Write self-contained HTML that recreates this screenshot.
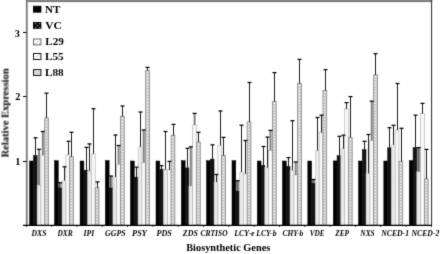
<!DOCTYPE html><html><head><meta charset="utf-8"><style>
html,body{margin:0;padding:0;background:#fff;width:440px;height:254px;overflow:hidden}
svg{display:block}#w{width:440px;height:254px;filter:grayscale(1)}
</style></head><body><div id="w">
<svg width="440" height="254" viewBox="0 0 440 254">
<defs><filter id="bl" x="0" y="0" width="440" height="254" filterUnits="userSpaceOnUse" color-interpolation-filters="sRGB"><feConvolveMatrix order="3" kernelMatrix="0.0144 0.0912 0.0144 0.0912 0.5776 0.0912 0.0144 0.0912 0.0144" edgeMode="duplicate"/></filter>
</defs>
<g filter="url(#bl)"><rect width="440" height="254" fill="#fff"/>
<rect x="29.60" y="161.00" width="3.78" height="64.00" fill="#000" stroke="#000" stroke-width="0.5"/>
<rect x="33.38" y="155.40" width="3.78" height="69.60" fill="#131313" stroke="#111" stroke-width="0.5"/>
<rect x="37.16" y="185.20" width="3.78" height="39.80" fill="#e4e4e4" stroke="#c8c8c8" stroke-width="0.6"/>
<line x1="39.35" y1="186.20" x2="39.35" y2="225.00" stroke="#f2f2f2" stroke-width="1"/>
<rect x="40.94" y="155.10" width="3.78" height="69.90" fill="#f8f8f8" stroke="#aaa" stroke-width="0.6"/>
<rect x="44.72" y="117.90" width="3.78" height="107.10" fill="#d2d2d2" stroke="#888" stroke-width="0.8"/>
<line x1="46.50" y1="119" x2="46.50" y2="225.00" stroke="#c4c4c4" stroke-width="1"/>
<line x1="46.50" y1="119" x2="46.50" y2="225.00" stroke="#fefefe" stroke-width="1" stroke-dasharray="1 2"/>
<line x1="48.00" y1="120.5" x2="48.00" y2="225.00" stroke="#b0b0b0" stroke-width="0.8" stroke-dasharray="1 2"/>
<rect x="54.50" y="160.70" width="3.78" height="64.30" fill="#000" stroke="#000" stroke-width="0.5"/>
<rect x="58.28" y="187.60" width="3.78" height="37.40" fill="#131313" stroke="#111" stroke-width="0.5"/>
<rect x="62.06" y="180.50" width="3.78" height="44.50" fill="#e4e4e4" stroke="#c8c8c8" stroke-width="0.6"/>
<line x1="64.25" y1="181.50" x2="64.25" y2="225.00" stroke="#f2f2f2" stroke-width="1"/>
<rect x="65.84" y="154.80" width="3.78" height="70.20" fill="#f8f8f8" stroke="#aaa" stroke-width="0.6"/>
<rect x="69.62" y="156.80" width="3.78" height="68.20" fill="#d2d2d2" stroke="#888" stroke-width="0.8"/>
<line x1="71.50" y1="158" x2="71.50" y2="225.00" stroke="#c4c4c4" stroke-width="1"/>
<line x1="71.50" y1="158" x2="71.50" y2="225.00" stroke="#fefefe" stroke-width="1" stroke-dasharray="1 2"/>
<line x1="73.00" y1="159.5" x2="73.00" y2="225.00" stroke="#b0b0b0" stroke-width="0.8" stroke-dasharray="1 2"/>
<rect x="80.09" y="161.00" width="3.78" height="64.00" fill="#000" stroke="#000" stroke-width="0.5"/>
<rect x="83.87" y="170.20" width="3.78" height="54.80" fill="#131313" stroke="#111" stroke-width="0.5"/>
<rect x="87.65" y="171.30" width="3.78" height="53.70" fill="#e4e4e4" stroke="#c8c8c8" stroke-width="0.6"/>
<line x1="89.84" y1="172.30" x2="89.84" y2="225.00" stroke="#f2f2f2" stroke-width="1"/>
<rect x="91.43" y="153.90" width="3.78" height="71.10" fill="#f8f8f8" stroke="#aaa" stroke-width="0.6"/>
<rect x="95.21" y="187.90" width="3.78" height="37.10" fill="#d2d2d2" stroke="#888" stroke-width="0.8"/>
<line x1="96.50" y1="189" x2="96.50" y2="225.00" stroke="#c4c4c4" stroke-width="1"/>
<line x1="96.50" y1="189" x2="96.50" y2="225.00" stroke="#fefefe" stroke-width="1" stroke-dasharray="1 2"/>
<line x1="98.00" y1="190.5" x2="98.00" y2="225.00" stroke="#b0b0b0" stroke-width="0.8" stroke-dasharray="1 2"/>
<rect x="105.36" y="160.50" width="3.78" height="64.50" fill="#000" stroke="#000" stroke-width="0.5"/>
<rect x="109.14" y="187.60" width="3.78" height="37.40" fill="#131313" stroke="#111" stroke-width="0.5"/>
<rect x="112.92" y="177.00" width="3.78" height="48.00" fill="#e4e4e4" stroke="#c8c8c8" stroke-width="0.6"/>
<line x1="115.11" y1="178.00" x2="115.11" y2="225.00" stroke="#f2f2f2" stroke-width="1"/>
<rect x="116.70" y="164.20" width="3.78" height="60.80" fill="#f8f8f8" stroke="#aaa" stroke-width="0.6"/>
<rect x="120.48" y="116.30" width="3.78" height="108.70" fill="#d2d2d2" stroke="#888" stroke-width="0.8"/>
<line x1="122.50" y1="118" x2="122.50" y2="225.00" stroke="#c4c4c4" stroke-width="1"/>
<line x1="122.50" y1="118" x2="122.50" y2="225.00" stroke="#fefefe" stroke-width="1" stroke-dasharray="1 2"/>
<line x1="124.00" y1="119.5" x2="124.00" y2="225.00" stroke="#b0b0b0" stroke-width="0.8" stroke-dasharray="1 2"/>
<rect x="130.50" y="161.00" width="3.78" height="64.00" fill="#000" stroke="#000" stroke-width="0.5"/>
<rect x="134.28" y="177.10" width="3.78" height="47.90" fill="#131313" stroke="#111" stroke-width="0.5"/>
<rect x="138.06" y="147.00" width="3.78" height="78.00" fill="#e4e4e4" stroke="#c8c8c8" stroke-width="0.6"/>
<line x1="140.25" y1="148.00" x2="140.25" y2="225.00" stroke="#f2f2f2" stroke-width="1"/>
<rect x="141.84" y="162.50" width="3.78" height="62.50" fill="#f8f8f8" stroke="#aaa" stroke-width="0.6"/>
<rect x="145.62" y="70.40" width="3.78" height="154.60" fill="#d2d2d2" stroke="#888" stroke-width="0.8"/>
<line x1="147.50" y1="72" x2="147.50" y2="225.00" stroke="#c4c4c4" stroke-width="1"/>
<line x1="147.50" y1="72" x2="147.50" y2="225.00" stroke="#fefefe" stroke-width="1" stroke-dasharray="1 2"/>
<line x1="149.00" y1="73.5" x2="149.00" y2="225.00" stroke="#b0b0b0" stroke-width="0.8" stroke-dasharray="1 2"/>
<rect x="156.00" y="161.00" width="3.78" height="64.00" fill="#000" stroke="#000" stroke-width="0.5"/>
<rect x="159.78" y="169.20" width="3.78" height="55.80" fill="#131313" stroke="#111" stroke-width="0.5"/>
<rect x="163.56" y="169.90" width="3.78" height="55.10" fill="#e4e4e4" stroke="#c8c8c8" stroke-width="0.6"/>
<line x1="165.75" y1="170.90" x2="165.75" y2="225.00" stroke="#f2f2f2" stroke-width="1"/>
<rect x="167.34" y="169.90" width="3.78" height="55.10" fill="#f8f8f8" stroke="#aaa" stroke-width="0.6"/>
<rect x="171.12" y="135.40" width="3.78" height="89.60" fill="#d2d2d2" stroke="#888" stroke-width="0.8"/>
<line x1="172.50" y1="137" x2="172.50" y2="225.00" stroke="#c4c4c4" stroke-width="1"/>
<line x1="172.50" y1="137" x2="172.50" y2="225.00" stroke="#fefefe" stroke-width="1" stroke-dasharray="1 2"/>
<line x1="174.00" y1="138.5" x2="174.00" y2="225.00" stroke="#b0b0b0" stroke-width="0.8" stroke-dasharray="1 2"/>
<rect x="181.36" y="160.70" width="3.78" height="64.30" fill="#000" stroke="#000" stroke-width="0.5"/>
<rect x="185.14" y="167.90" width="3.78" height="57.10" fill="#131313" stroke="#111" stroke-width="0.5"/>
<rect x="188.92" y="186.00" width="3.78" height="39.00" fill="#e4e4e4" stroke="#c8c8c8" stroke-width="0.6"/>
<line x1="191.11" y1="187.00" x2="191.11" y2="225.00" stroke="#f2f2f2" stroke-width="1"/>
<rect x="192.70" y="124.90" width="3.78" height="100.10" fill="#f8f8f8" stroke="#aaa" stroke-width="0.6"/>
<rect x="196.48" y="142.10" width="3.78" height="82.90" fill="#d2d2d2" stroke="#888" stroke-width="0.8"/>
<line x1="198.50" y1="144" x2="198.50" y2="225.00" stroke="#c4c4c4" stroke-width="1"/>
<line x1="198.50" y1="144" x2="198.50" y2="225.00" stroke="#fefefe" stroke-width="1" stroke-dasharray="1 2"/>
<line x1="200.00" y1="145.5" x2="200.00" y2="225.00" stroke="#b0b0b0" stroke-width="0.8" stroke-dasharray="1 2"/>
<rect x="206.49" y="160.70" width="3.78" height="64.30" fill="#000" stroke="#000" stroke-width="0.5"/>
<rect x="210.27" y="159.10" width="3.78" height="65.90" fill="#131313" stroke="#111" stroke-width="0.5"/>
<rect x="214.05" y="182.00" width="3.78" height="43.00" fill="#e4e4e4" stroke="#c8c8c8" stroke-width="0.6"/>
<line x1="216.24" y1="183.00" x2="216.24" y2="225.00" stroke="#f2f2f2" stroke-width="1"/>
<rect x="217.83" y="145.20" width="3.78" height="79.80" fill="#f8f8f8" stroke="#aaa" stroke-width="0.6"/>
<rect x="221.61" y="155.50" width="3.78" height="69.50" fill="#d2d2d2" stroke="#888" stroke-width="0.8"/>
<line x1="223.50" y1="157" x2="223.50" y2="225.00" stroke="#c4c4c4" stroke-width="1"/>
<line x1="223.50" y1="157" x2="223.50" y2="225.00" stroke="#fefefe" stroke-width="1" stroke-dasharray="1 2"/>
<line x1="225.00" y1="158.5" x2="225.00" y2="225.00" stroke="#b0b0b0" stroke-width="0.8" stroke-dasharray="1 2"/>
<rect x="232.00" y="160.70" width="3.78" height="64.30" fill="#000" stroke="#000" stroke-width="0.5"/>
<rect x="235.78" y="191.00" width="3.78" height="34.00" fill="#131313" stroke="#111" stroke-width="0.5"/>
<rect x="239.56" y="172.10" width="3.78" height="52.90" fill="#e4e4e4" stroke="#c8c8c8" stroke-width="0.6"/>
<line x1="241.75" y1="173.10" x2="241.75" y2="225.00" stroke="#f2f2f2" stroke-width="1"/>
<rect x="243.34" y="173.70" width="3.78" height="51.30" fill="#f8f8f8" stroke="#aaa" stroke-width="0.6"/>
<rect x="247.12" y="122.00" width="3.78" height="103.00" fill="#d2d2d2" stroke="#888" stroke-width="0.8"/>
<line x1="248.50" y1="123" x2="248.50" y2="225.00" stroke="#c4c4c4" stroke-width="1"/>
<line x1="248.50" y1="123" x2="248.50" y2="225.00" stroke="#fefefe" stroke-width="1" stroke-dasharray="1 2"/>
<line x1="250.00" y1="124.5" x2="250.00" y2="225.00" stroke="#b0b0b0" stroke-width="0.8" stroke-dasharray="1 2"/>
<rect x="257.27" y="161.00" width="3.78" height="64.00" fill="#000" stroke="#000" stroke-width="0.5"/>
<rect x="261.05" y="165.20" width="3.78" height="59.80" fill="#131313" stroke="#111" stroke-width="0.5"/>
<rect x="264.83" y="167.60" width="3.78" height="57.40" fill="#e4e4e4" stroke="#c8c8c8" stroke-width="0.6"/>
<line x1="267.02" y1="168.60" x2="267.02" y2="225.00" stroke="#f2f2f2" stroke-width="1"/>
<rect x="268.61" y="150.50" width="3.78" height="74.50" fill="#f8f8f8" stroke="#aaa" stroke-width="0.6"/>
<rect x="272.39" y="101.60" width="3.78" height="123.40" fill="#d2d2d2" stroke="#888" stroke-width="0.8"/>
<line x1="274.50" y1="103" x2="274.50" y2="225.00" stroke="#c4c4c4" stroke-width="1"/>
<line x1="274.50" y1="103" x2="274.50" y2="225.00" stroke="#fefefe" stroke-width="1" stroke-dasharray="1 2"/>
<line x1="276.00" y1="104.5" x2="276.00" y2="225.00" stroke="#b0b0b0" stroke-width="0.8" stroke-dasharray="1 2"/>
<rect x="282.49" y="161.00" width="3.78" height="64.00" fill="#000" stroke="#000" stroke-width="0.5"/>
<rect x="286.27" y="166.30" width="3.78" height="58.70" fill="#131313" stroke="#111" stroke-width="0.5"/>
<rect x="290.05" y="170.20" width="3.78" height="54.80" fill="#e4e4e4" stroke="#c8c8c8" stroke-width="0.6"/>
<line x1="292.24" y1="171.20" x2="292.24" y2="225.00" stroke="#f2f2f2" stroke-width="1"/>
<rect x="293.83" y="175.00" width="3.78" height="50.00" fill="#f8f8f8" stroke="#aaa" stroke-width="0.6"/>
<rect x="297.61" y="83.50" width="3.78" height="141.50" fill="#d2d2d2" stroke="#888" stroke-width="0.8"/>
<line x1="299.50" y1="85" x2="299.50" y2="225.00" stroke="#c4c4c4" stroke-width="1"/>
<line x1="299.50" y1="85" x2="299.50" y2="225.00" stroke="#fefefe" stroke-width="1" stroke-dasharray="1 2"/>
<line x1="301.00" y1="86.5" x2="301.00" y2="225.00" stroke="#b0b0b0" stroke-width="0.8" stroke-dasharray="1 2"/>
<rect x="307.82" y="161.00" width="3.78" height="64.00" fill="#000" stroke="#000" stroke-width="0.5"/>
<rect x="311.60" y="183.10" width="3.78" height="41.90" fill="#131313" stroke="#111" stroke-width="0.5"/>
<rect x="315.38" y="150.50" width="3.78" height="74.50" fill="#e4e4e4" stroke="#c8c8c8" stroke-width="0.6"/>
<line x1="317.57" y1="151.50" x2="317.57" y2="225.00" stroke="#f2f2f2" stroke-width="1"/>
<rect x="319.16" y="132.40" width="3.78" height="92.60" fill="#f8f8f8" stroke="#aaa" stroke-width="0.6"/>
<rect x="322.94" y="90.40" width="3.78" height="134.60" fill="#d2d2d2" stroke="#888" stroke-width="0.8"/>
<line x1="324.50" y1="92" x2="324.50" y2="225.00" stroke="#c4c4c4" stroke-width="1"/>
<line x1="324.50" y1="92" x2="324.50" y2="225.00" stroke="#fefefe" stroke-width="1" stroke-dasharray="1 2"/>
<line x1="326.00" y1="93.5" x2="326.00" y2="225.00" stroke="#b0b0b0" stroke-width="0.8" stroke-dasharray="1 2"/>
<rect x="333.27" y="160.90" width="3.78" height="64.10" fill="#000" stroke="#000" stroke-width="0.5"/>
<rect x="337.05" y="155.70" width="3.78" height="69.30" fill="#131313" stroke="#111" stroke-width="0.5"/>
<rect x="340.83" y="148.60" width="3.78" height="76.40" fill="#e4e4e4" stroke="#c8c8c8" stroke-width="0.6"/>
<line x1="343.02" y1="149.60" x2="343.02" y2="225.00" stroke="#f2f2f2" stroke-width="1"/>
<rect x="344.61" y="108.90" width="3.78" height="116.10" fill="#f8f8f8" stroke="#aaa" stroke-width="0.6"/>
<rect x="348.39" y="137.60" width="3.78" height="87.40" fill="#d2d2d2" stroke="#888" stroke-width="0.8"/>
<line x1="350.50" y1="139" x2="350.50" y2="225.00" stroke="#c4c4c4" stroke-width="1"/>
<line x1="350.50" y1="139" x2="350.50" y2="225.00" stroke="#fefefe" stroke-width="1" stroke-dasharray="1 2"/>
<line x1="352.00" y1="140.5" x2="352.00" y2="225.00" stroke="#b0b0b0" stroke-width="0.8" stroke-dasharray="1 2"/>
<rect x="358.49" y="161.00" width="3.78" height="64.00" fill="#000" stroke="#000" stroke-width="0.5"/>
<rect x="362.27" y="149.60" width="3.78" height="75.40" fill="#131313" stroke="#111" stroke-width="0.5"/>
<rect x="366.05" y="173.30" width="3.78" height="51.70" fill="#e4e4e4" stroke="#c8c8c8" stroke-width="0.6"/>
<line x1="368.24" y1="174.30" x2="368.24" y2="225.00" stroke="#f2f2f2" stroke-width="1"/>
<rect x="369.83" y="140.50" width="3.78" height="84.50" fill="#f8f8f8" stroke="#aaa" stroke-width="0.6"/>
<rect x="373.61" y="74.90" width="3.78" height="150.10" fill="#d2d2d2" stroke="#888" stroke-width="0.8"/>
<line x1="375.50" y1="76" x2="375.50" y2="225.00" stroke="#c4c4c4" stroke-width="1"/>
<line x1="375.50" y1="76" x2="375.50" y2="225.00" stroke="#fefefe" stroke-width="1" stroke-dasharray="1 2"/>
<line x1="377.00" y1="77.5" x2="377.00" y2="225.00" stroke="#b0b0b0" stroke-width="0.8" stroke-dasharray="1 2"/>
<rect x="383.82" y="161.00" width="3.78" height="64.00" fill="#000" stroke="#000" stroke-width="0.5"/>
<rect x="387.60" y="147.80" width="3.78" height="77.20" fill="#131313" stroke="#111" stroke-width="0.5"/>
<rect x="391.38" y="144.70" width="3.78" height="80.30" fill="#e4e4e4" stroke="#c8c8c8" stroke-width="0.6"/>
<line x1="393.57" y1="145.70" x2="393.57" y2="225.00" stroke="#f2f2f2" stroke-width="1"/>
<rect x="395.16" y="130.00" width="3.78" height="95.00" fill="#f8f8f8" stroke="#aaa" stroke-width="0.6"/>
<rect x="398.94" y="161.30" width="3.78" height="63.70" fill="#d2d2d2" stroke="#888" stroke-width="0.8"/>
<line x1="400.50" y1="163" x2="400.50" y2="225.00" stroke="#c4c4c4" stroke-width="1"/>
<line x1="400.50" y1="163" x2="400.50" y2="225.00" stroke="#fefefe" stroke-width="1" stroke-dasharray="1 2"/>
<line x1="402.00" y1="164.5" x2="402.00" y2="225.00" stroke="#b0b0b0" stroke-width="0.8" stroke-dasharray="1 2"/>
<rect x="409.27" y="160.70" width="3.78" height="64.30" fill="#000" stroke="#000" stroke-width="0.5"/>
<rect x="413.05" y="147.60" width="3.78" height="77.40" fill="#131313" stroke="#111" stroke-width="0.5"/>
<rect x="416.83" y="171.60" width="3.78" height="53.40" fill="#e4e4e4" stroke="#c8c8c8" stroke-width="0.6"/>
<line x1="419.02" y1="172.60" x2="419.02" y2="225.00" stroke="#f2f2f2" stroke-width="1"/>
<rect x="420.61" y="113.60" width="3.78" height="111.40" fill="#f8f8f8" stroke="#aaa" stroke-width="0.6"/>
<rect x="424.39" y="178.90" width="3.78" height="46.10" fill="#d2d2d2" stroke="#888" stroke-width="0.8"/>
<line x1="426.50" y1="180" x2="426.50" y2="225.00" stroke="#c4c4c4" stroke-width="1"/>
<line x1="426.50" y1="180" x2="426.50" y2="225.00" stroke="#fefefe" stroke-width="1" stroke-dasharray="1 2"/>
<line x1="428.00" y1="181.5" x2="428.00" y2="225.00" stroke="#b0b0b0" stroke-width="0.8" stroke-dasharray="1 2"/>
<line x1="35.50" y1="155.40" x2="35.50" y2="137.80" stroke="#1a1a1a" stroke-width="1"/>
<line x1="33.50" y1="137.80" x2="37.50" y2="137.80" stroke="#000" stroke-width="1.25"/>
<line x1="39.05" y1="185.20" x2="39.05" y2="149.30" stroke="#808080" stroke-width="2"/>
<line x1="37.05" y1="149.30" x2="41.05" y2="149.30" stroke="#000" stroke-width="1.25"/>
<line x1="42.83" y1="155.10" x2="42.83" y2="131.50" stroke="#808080" stroke-width="2"/>
<line x1="40.83" y1="131.50" x2="44.83" y2="131.50" stroke="#000" stroke-width="1.25"/>
<line x1="46.50" y1="117.90" x2="46.50" y2="93.20" stroke="#1a1a1a" stroke-width="1"/>
<line x1="44.50" y1="93.20" x2="48.50" y2="93.20" stroke="#000" stroke-width="1.25"/>
<rect x="58.68" y="182.70" width="2.98" height="4.90" fill="#8a8a8a"/>
<line x1="59.57" y1="187.60" x2="59.57" y2="182.70" stroke="#444" stroke-width="0.8"/>
<line x1="58.17" y1="182.70" x2="62.17" y2="182.70" stroke="#000" stroke-width="1.25"/>
<line x1="64.50" y1="180.50" x2="64.50" y2="166.80" stroke="#1a1a1a" stroke-width="1"/>
<line x1="62.50" y1="166.80" x2="66.50" y2="166.80" stroke="#000" stroke-width="1.25"/>
<line x1="68.50" y1="154.80" x2="68.50" y2="141.30" stroke="#1a1a1a" stroke-width="1"/>
<line x1="66.50" y1="141.30" x2="70.50" y2="141.30" stroke="#000" stroke-width="1.25"/>
<line x1="71.50" y1="156.80" x2="71.50" y2="132.30" stroke="#1a1a1a" stroke-width="1"/>
<line x1="69.50" y1="132.30" x2="73.50" y2="132.30" stroke="#000" stroke-width="1.25"/>
<line x1="86.50" y1="170.20" x2="86.50" y2="147.40" stroke="#1a1a1a" stroke-width="1"/>
<line x1="84.50" y1="147.40" x2="88.50" y2="147.40" stroke="#000" stroke-width="1.25"/>
<line x1="89.50" y1="171.30" x2="89.50" y2="143.90" stroke="#1a1a1a" stroke-width="1"/>
<line x1="87.50" y1="143.90" x2="91.50" y2="143.90" stroke="#000" stroke-width="1.25"/>
<line x1="93.50" y1="153.90" x2="93.50" y2="108.70" stroke="#1a1a1a" stroke-width="1"/>
<line x1="91.50" y1="108.70" x2="95.50" y2="108.70" stroke="#000" stroke-width="1.25"/>
<line x1="97.50" y1="187.90" x2="97.50" y2="181.90" stroke="#1a1a1a" stroke-width="1"/>
<line x1="95.50" y1="181.90" x2="99.50" y2="181.90" stroke="#000" stroke-width="1.25"/>
<rect x="109.54" y="176.00" width="2.98" height="11.60" fill="#8a8a8a"/>
<line x1="110.43" y1="187.60" x2="110.43" y2="176.00" stroke="#444" stroke-width="0.8"/>
<line x1="109.03" y1="176.00" x2="113.03" y2="176.00" stroke="#000" stroke-width="1.25"/>
<line x1="115.50" y1="177.00" x2="115.50" y2="135.00" stroke="#1a1a1a" stroke-width="1"/>
<line x1="113.50" y1="135.00" x2="117.50" y2="135.00" stroke="#000" stroke-width="1.25"/>
<line x1="118.59" y1="164.20" x2="118.59" y2="145.50" stroke="#808080" stroke-width="2"/>
<line x1="116.59" y1="145.50" x2="120.59" y2="145.50" stroke="#000" stroke-width="1.25"/>
<line x1="122.50" y1="116.30" x2="122.50" y2="106.00" stroke="#1a1a1a" stroke-width="1"/>
<line x1="120.50" y1="106.00" x2="124.50" y2="106.00" stroke="#000" stroke-width="1.25"/>
<line x1="136.50" y1="177.10" x2="136.50" y2="167.20" stroke="#1a1a1a" stroke-width="1"/>
<line x1="134.50" y1="167.20" x2="138.50" y2="167.20" stroke="#000" stroke-width="1.25"/>
<line x1="140.50" y1="147.00" x2="140.50" y2="112.00" stroke="#1a1a1a" stroke-width="1"/>
<line x1="138.50" y1="112.00" x2="142.50" y2="112.00" stroke="#000" stroke-width="1.25"/>
<line x1="143.73" y1="162.50" x2="143.73" y2="130.00" stroke="#808080" stroke-width="2"/>
<line x1="141.73" y1="130.00" x2="145.73" y2="130.00" stroke="#000" stroke-width="1.25"/>
<line x1="147.50" y1="70.40" x2="147.50" y2="67.40" stroke="#1a1a1a" stroke-width="1"/>
<line x1="145.50" y1="67.40" x2="149.50" y2="67.40" stroke="#000" stroke-width="1.25"/>
<line x1="161.50" y1="169.20" x2="161.50" y2="165.60" stroke="#1a1a1a" stroke-width="1"/>
<line x1="159.50" y1="165.60" x2="163.50" y2="165.60" stroke="#000" stroke-width="1.25"/>
<line x1="165.50" y1="169.90" x2="165.50" y2="131.50" stroke="#1a1a1a" stroke-width="1"/>
<line x1="163.50" y1="131.50" x2="167.50" y2="131.50" stroke="#000" stroke-width="1.25"/>
<line x1="169.50" y1="169.90" x2="169.50" y2="161.40" stroke="#1a1a1a" stroke-width="1"/>
<line x1="167.50" y1="161.40" x2="171.50" y2="161.40" stroke="#000" stroke-width="1.25"/>
<line x1="173.50" y1="135.40" x2="173.50" y2="124.40" stroke="#1a1a1a" stroke-width="1"/>
<line x1="171.50" y1="124.40" x2="175.50" y2="124.40" stroke="#000" stroke-width="1.25"/>
<line x1="187.50" y1="167.90" x2="187.50" y2="148.40" stroke="#1a1a1a" stroke-width="1"/>
<line x1="185.50" y1="148.40" x2="189.50" y2="148.40" stroke="#000" stroke-width="1.25"/>
<line x1="190.81" y1="186.00" x2="190.81" y2="146.80" stroke="#808080" stroke-width="2"/>
<line x1="188.81" y1="146.80" x2="192.81" y2="146.80" stroke="#000" stroke-width="1.25"/>
<line x1="194.59" y1="124.90" x2="194.59" y2="113.40" stroke="#808080" stroke-width="2"/>
<line x1="192.59" y1="113.40" x2="196.59" y2="113.40" stroke="#000" stroke-width="1.25"/>
<line x1="198.50" y1="142.10" x2="198.50" y2="132.30" stroke="#1a1a1a" stroke-width="1"/>
<line x1="196.50" y1="132.30" x2="200.50" y2="132.30" stroke="#000" stroke-width="1.25"/>
<line x1="212.50" y1="159.10" x2="212.50" y2="144.80" stroke="#1a1a1a" stroke-width="1"/>
<line x1="210.50" y1="144.80" x2="214.50" y2="144.80" stroke="#000" stroke-width="1.25"/>
<line x1="216.50" y1="182.00" x2="216.50" y2="174.50" stroke="#1a1a1a" stroke-width="1"/>
<line x1="214.50" y1="174.50" x2="218.50" y2="174.50" stroke="#000" stroke-width="1.25"/>
<line x1="220.50" y1="145.20" x2="220.50" y2="111.00" stroke="#1a1a1a" stroke-width="1"/>
<line x1="218.50" y1="111.00" x2="222.50" y2="111.00" stroke="#000" stroke-width="1.25"/>
<line x1="223.50" y1="155.50" x2="223.50" y2="137.40" stroke="#1a1a1a" stroke-width="1"/>
<line x1="221.50" y1="137.40" x2="225.50" y2="137.40" stroke="#000" stroke-width="1.25"/>
<rect x="236.18" y="180.70" width="2.98" height="10.30" fill="#8a8a8a"/>
<line x1="237.07" y1="191.00" x2="237.07" y2="180.70" stroke="#444" stroke-width="0.8"/>
<line x1="235.67" y1="180.70" x2="239.67" y2="180.70" stroke="#000" stroke-width="1.25"/>
<line x1="241.50" y1="172.10" x2="241.50" y2="125.20" stroke="#1a1a1a" stroke-width="1"/>
<line x1="239.50" y1="125.20" x2="243.50" y2="125.20" stroke="#000" stroke-width="1.25"/>
<line x1="245.50" y1="173.70" x2="245.50" y2="140.50" stroke="#1a1a1a" stroke-width="1"/>
<line x1="243.50" y1="140.50" x2="247.50" y2="140.50" stroke="#000" stroke-width="1.25"/>
<line x1="249.50" y1="122.00" x2="249.50" y2="82.50" stroke="#1a1a1a" stroke-width="1"/>
<line x1="247.50" y1="82.50" x2="251.50" y2="82.50" stroke="#000" stroke-width="1.25"/>
<line x1="263.50" y1="165.20" x2="263.50" y2="146.50" stroke="#1a1a1a" stroke-width="1"/>
<line x1="261.50" y1="146.50" x2="265.50" y2="146.50" stroke="#000" stroke-width="1.25"/>
<line x1="267.50" y1="167.60" x2="267.50" y2="137.10" stroke="#1a1a1a" stroke-width="1"/>
<line x1="265.50" y1="137.10" x2="269.50" y2="137.10" stroke="#000" stroke-width="1.25"/>
<line x1="270.50" y1="150.50" x2="270.50" y2="130.40" stroke="#808080" stroke-width="2"/>
<line x1="268.50" y1="130.40" x2="272.50" y2="130.40" stroke="#000" stroke-width="1.25"/>
<line x1="274.50" y1="101.60" x2="274.50" y2="72.60" stroke="#1a1a1a" stroke-width="1"/>
<line x1="272.50" y1="72.60" x2="276.50" y2="72.60" stroke="#000" stroke-width="1.25"/>
<line x1="288.50" y1="166.30" x2="288.50" y2="157.60" stroke="#1a1a1a" stroke-width="1"/>
<line x1="286.50" y1="157.60" x2="290.50" y2="157.60" stroke="#000" stroke-width="1.25"/>
<line x1="292.50" y1="170.20" x2="292.50" y2="120.70" stroke="#1a1a1a" stroke-width="1"/>
<line x1="290.50" y1="120.70" x2="294.50" y2="120.70" stroke="#000" stroke-width="1.25"/>
<line x1="295.72" y1="175.00" x2="295.72" y2="162.00" stroke="#808080" stroke-width="2"/>
<line x1="293.72" y1="162.00" x2="297.72" y2="162.00" stroke="#000" stroke-width="1.25"/>
<line x1="299.50" y1="83.50" x2="299.50" y2="59.40" stroke="#1a1a1a" stroke-width="1"/>
<line x1="297.50" y1="59.40" x2="301.50" y2="59.40" stroke="#000" stroke-width="1.25"/>
<rect x="312.00" y="179.50" width="2.98" height="3.60" fill="#8a8a8a"/>
<line x1="312.89" y1="183.10" x2="312.89" y2="179.50" stroke="#444" stroke-width="0.8"/>
<line x1="311.49" y1="179.50" x2="315.49" y2="179.50" stroke="#000" stroke-width="1.25"/>
<line x1="317.50" y1="150.50" x2="317.50" y2="117.50" stroke="#1a1a1a" stroke-width="1"/>
<line x1="315.50" y1="117.50" x2="319.50" y2="117.50" stroke="#000" stroke-width="1.25"/>
<line x1="321.50" y1="132.40" x2="321.50" y2="115.20" stroke="#1a1a1a" stroke-width="1"/>
<line x1="319.50" y1="115.20" x2="323.50" y2="115.20" stroke="#000" stroke-width="1.25"/>
<line x1="325.50" y1="90.40" x2="325.50" y2="69.60" stroke="#1a1a1a" stroke-width="1"/>
<line x1="323.50" y1="69.60" x2="327.50" y2="69.60" stroke="#000" stroke-width="1.25"/>
<line x1="339.50" y1="155.70" x2="339.50" y2="136.30" stroke="#1a1a1a" stroke-width="1"/>
<line x1="337.50" y1="136.30" x2="341.50" y2="136.30" stroke="#000" stroke-width="1.25"/>
<line x1="343.50" y1="148.60" x2="343.50" y2="135.20" stroke="#1a1a1a" stroke-width="1"/>
<line x1="341.50" y1="135.20" x2="345.50" y2="135.20" stroke="#000" stroke-width="1.25"/>
<line x1="346.50" y1="108.90" x2="346.50" y2="102.60" stroke="#1a1a1a" stroke-width="1"/>
<line x1="344.50" y1="102.60" x2="348.50" y2="102.60" stroke="#000" stroke-width="1.25"/>
<line x1="350.50" y1="137.60" x2="350.50" y2="96.60" stroke="#1a1a1a" stroke-width="1"/>
<line x1="348.50" y1="96.60" x2="352.50" y2="96.60" stroke="#000" stroke-width="1.25"/>
<line x1="364.50" y1="149.60" x2="364.50" y2="141.30" stroke="#1a1a1a" stroke-width="1"/>
<line x1="362.50" y1="141.30" x2="366.50" y2="141.30" stroke="#000" stroke-width="1.25"/>
<line x1="368.50" y1="173.30" x2="368.50" y2="134.50" stroke="#1a1a1a" stroke-width="1"/>
<line x1="366.50" y1="134.50" x2="370.50" y2="134.50" stroke="#000" stroke-width="1.25"/>
<line x1="371.72" y1="140.50" x2="371.72" y2="101.20" stroke="#808080" stroke-width="2"/>
<line x1="369.72" y1="101.20" x2="373.72" y2="101.20" stroke="#000" stroke-width="1.25"/>
<line x1="375.50" y1="74.90" x2="375.50" y2="53.70" stroke="#1a1a1a" stroke-width="1"/>
<line x1="373.50" y1="53.70" x2="377.50" y2="53.70" stroke="#000" stroke-width="1.25"/>
<line x1="389.50" y1="147.80" x2="389.50" y2="127.70" stroke="#1a1a1a" stroke-width="1"/>
<line x1="387.50" y1="127.70" x2="391.50" y2="127.70" stroke="#000" stroke-width="1.25"/>
<line x1="393.50" y1="144.70" x2="393.50" y2="125.30" stroke="#1a1a1a" stroke-width="1"/>
<line x1="391.50" y1="125.30" x2="395.50" y2="125.30" stroke="#000" stroke-width="1.25"/>
<line x1="397.50" y1="130.00" x2="397.50" y2="83.50" stroke="#1a1a1a" stroke-width="1"/>
<line x1="395.50" y1="83.50" x2="399.50" y2="83.50" stroke="#000" stroke-width="1.25"/>
<line x1="401.50" y1="161.30" x2="401.50" y2="128.30" stroke="#1a1a1a" stroke-width="1"/>
<line x1="399.50" y1="128.30" x2="403.50" y2="128.30" stroke="#000" stroke-width="1.25"/>
<line x1="415.50" y1="147.60" x2="415.50" y2="115.20" stroke="#1a1a1a" stroke-width="1"/>
<line x1="413.50" y1="115.20" x2="417.50" y2="115.20" stroke="#000" stroke-width="1.25"/>
<rect x="417.23" y="147.60" width="2.98" height="24.00" fill="#8a8a8a"/>
<line x1="418.12" y1="171.60" x2="418.12" y2="147.60" stroke="#444" stroke-width="0.8"/>
<line x1="416.72" y1="147.60" x2="420.72" y2="147.60" stroke="#000" stroke-width="1.25"/>
<line x1="422.50" y1="113.60" x2="422.50" y2="103.40" stroke="#1a1a1a" stroke-width="1"/>
<line x1="420.50" y1="103.40" x2="424.50" y2="103.40" stroke="#000" stroke-width="1.25"/>
<line x1="426.50" y1="178.90" x2="426.50" y2="149.40" stroke="#1a1a1a" stroke-width="1"/>
<line x1="424.50" y1="149.40" x2="428.50" y2="149.40" stroke="#000" stroke-width="1.25"/>
<rect x="26" y="0" width="406.2" height="1" fill="#8a8a8a"/>
<rect x="26" y="1" width="406.2" height="1.1" fill="#747474"/>
<line x1="431.55" y1="0" x2="431.55" y2="226" stroke="#3a3a3a" stroke-width="1.1"/>
<rect x="25.9" y="0" width="1.0" height="225.4" fill="#6a6a6a"/>
<rect x="26.9" y="0" width="0.9" height="225.4" fill="#8e8e8e"/>
<line x1="23" y1="225.4" x2="432" y2="225.4" stroke="#000" stroke-width="1.2"/>
<line x1="23" y1="32.5" x2="26.5" y2="32.5" stroke="#000" stroke-width="1"/>
<line x1="23" y1="96.5" x2="26.5" y2="96.5" stroke="#000" stroke-width="1"/>
<line x1="23" y1="161.5" x2="26.5" y2="161.5" stroke="#000" stroke-width="1"/>
<line x1="26.30" y1="225.4" x2="26.30" y2="227" stroke="#000" stroke-width="0.8"/>
<line x1="51.62" y1="225.4" x2="51.62" y2="227" stroke="#000" stroke-width="0.8"/>
<line x1="76.94" y1="225.4" x2="76.94" y2="227" stroke="#000" stroke-width="0.8"/>
<line x1="102.26" y1="225.4" x2="102.26" y2="227" stroke="#000" stroke-width="0.8"/>
<line x1="127.58" y1="225.4" x2="127.58" y2="227" stroke="#000" stroke-width="0.8"/>
<line x1="152.90" y1="225.4" x2="152.90" y2="227" stroke="#000" stroke-width="0.8"/>
<line x1="178.22" y1="225.4" x2="178.22" y2="227" stroke="#000" stroke-width="0.8"/>
<line x1="203.54" y1="225.4" x2="203.54" y2="227" stroke="#000" stroke-width="0.8"/>
<line x1="228.86" y1="225.4" x2="228.86" y2="227" stroke="#000" stroke-width="0.8"/>
<line x1="254.18" y1="225.4" x2="254.18" y2="227" stroke="#000" stroke-width="0.8"/>
<line x1="279.50" y1="225.4" x2="279.50" y2="227" stroke="#000" stroke-width="0.8"/>
<line x1="304.82" y1="225.4" x2="304.82" y2="227" stroke="#000" stroke-width="0.8"/>
<line x1="330.14" y1="225.4" x2="330.14" y2="227" stroke="#000" stroke-width="0.8"/>
<line x1="355.46" y1="225.4" x2="355.46" y2="227" stroke="#000" stroke-width="0.8"/>
<line x1="380.78" y1="225.4" x2="380.78" y2="227" stroke="#000" stroke-width="0.8"/>
<line x1="406.10" y1="225.4" x2="406.10" y2="227" stroke="#000" stroke-width="0.8"/>
<line x1="431.42" y1="225.4" x2="431.42" y2="227" stroke="#000" stroke-width="0.8"/>
<rect x="33.45" y="6.25" width="7.5" height="5.9" fill="#000" stroke="#000" stroke-width="0.9"/>
<rect x="33.45" y="22.45" width="7.5" height="5.9" fill="#050505" stroke="#000" stroke-width="0.9"/>
<rect x="35" y="23" width="1.2" height="1.2" fill="#9a9a9a"/>
<rect x="39" y="23" width="1.2" height="1.2" fill="#9a9a9a"/>
<rect x="37" y="25" width="1.2" height="1.2" fill="#9a9a9a"/>
<rect x="35" y="27" width="1.2" height="1.2" fill="#9a9a9a"/>
<rect x="39" y="27" width="1.2" height="1.2" fill="#9a9a9a"/>
<rect x="33.45" y="39.00" width="7.5" height="5.9" fill="#fcfcfc" stroke="#585858" stroke-width="0.9"/>
<rect x="35" y="39" width="1.2" height="1.2" fill="#b0b0b0"/>
<rect x="39" y="39" width="1.2" height="1.2" fill="#b0b0b0"/>
<rect x="37" y="41" width="1.2" height="1.2" fill="#b0b0b0"/>
<rect x="35" y="43" width="1.2" height="1.2" fill="#b0b0b0"/>
<rect x="39" y="43" width="1.2" height="1.2" fill="#b0b0b0"/>
<rect x="33.45" y="53.55" width="7.5" height="5.9" fill="#fff" stroke="#000" stroke-width="0.9"/>
<line x1="35" y1="58.50" x2="39.5" y2="54.50" stroke="#bbb" stroke-width="0.8"/>
<rect x="33.45" y="69.60" width="7.5" height="5.9" fill="#c8c8c8" stroke="#000" stroke-width="0.9"/>
<line x1="35.35" y1="70.05" x2="35.35" y2="75.05" stroke="#f0f0f0" stroke-width="0.8"/>
<line x1="37.35" y1="70.05" x2="37.35" y2="75.05" stroke="#f0f0f0" stroke-width="0.8"/>
<line x1="39.15" y1="70.05" x2="39.15" y2="75.05" stroke="#f0f0f0" stroke-width="0.8"/>
<text x="45.09" y="12.52" font-family="Liberation Serif" font-weight="bold" font-size="9.80" textLength="15.40" lengthAdjust="spacingAndGlyphs">NT</text>
<text x="45.25" y="28.54" font-family="Liberation Serif" font-weight="bold" font-size="9.80" textLength="16.52" lengthAdjust="spacingAndGlyphs">VC</text>
<text x="45.31" y="45.16" font-family="Liberation Serif" font-weight="bold" font-size="9.80" textLength="18.49" lengthAdjust="spacingAndGlyphs">L29</text>
<text x="45.07" y="59.50" font-family="Liberation Serif" font-weight="bold" font-size="9.80" textLength="18.65" lengthAdjust="spacingAndGlyphs">L55</text>
<text x="45.02" y="75.50" font-family="Liberation Serif" font-weight="bold" font-size="9.80" textLength="18.62" lengthAdjust="spacingAndGlyphs">L88</text>
<text x="14.63" y="37.00" font-family="Liberation Serif" font-weight="bold" font-size="10.30" textLength="5.15" lengthAdjust="spacingAndGlyphs">3</text>
<text x="15.37" y="100.00" font-family="Liberation Serif" font-weight="bold" font-size="10.30" textLength="5.15" lengthAdjust="spacingAndGlyphs">2</text>
<text x="15.34" y="164.52" font-family="Liberation Serif" font-weight="bold" font-size="10.30" textLength="5.15" lengthAdjust="spacingAndGlyphs">1</text>
<text transform="translate(8.52,157.45) rotate(-90)" font-family="Liberation Serif" font-weight="bold" font-size="10.50" textLength="89.05" lengthAdjust="spacingAndGlyphs">Relative Expression</text>
<text x="186.22" y="250.60" font-family="Liberation Serif" font-weight="bold" font-size="10.30" textLength="84.08" lengthAdjust="spacingAndGlyphs">Biosynthetic Genes</text>
<text x="31.53" y="236.00" font-family="Liberation Serif" font-weight="bold" font-style="italic" font-size="8.20" textLength="14.97" lengthAdjust="spacingAndGlyphs">DXS</text>
<text x="57.53" y="236.00" font-family="Liberation Serif" font-weight="bold" font-style="italic" font-size="8.20" textLength="15.20" lengthAdjust="spacingAndGlyphs">DXR</text>
<text x="83.56" y="236.00" font-family="Liberation Serif" font-weight="bold" font-style="italic" font-size="8.20" textLength="10.66" lengthAdjust="spacingAndGlyphs">IPI</text>
<text x="105.00" y="236.00" font-family="Liberation Serif" font-weight="bold" font-style="italic" font-size="8.20" textLength="20.73" lengthAdjust="spacingAndGlyphs">GGPS</text>
<text x="132.10" y="236.00" font-family="Liberation Serif" font-weight="bold" font-style="italic" font-size="8.20" textLength="14.82" lengthAdjust="spacingAndGlyphs">PSY</text>
<text x="156.50" y="236.00" font-family="Liberation Serif" font-weight="bold" font-style="italic" font-size="8.20" textLength="15.32" lengthAdjust="spacingAndGlyphs">PDS</text>
<text x="182.80" y="236.00" font-family="Liberation Serif" font-weight="bold" font-style="italic" font-size="8.20" textLength="15.03" lengthAdjust="spacingAndGlyphs">ZDS</text>
<text x="200.60" y="236.00" font-family="Liberation Serif" font-weight="bold" font-style="italic" font-size="8.20" textLength="26.93" lengthAdjust="spacingAndGlyphs">CRTISO</text>
<text x="234.14" y="236.00" font-family="Liberation Serif" font-weight="bold" font-style="italic" font-size="8.20" textLength="20.42" lengthAdjust="spacingAndGlyphs">LCY-e</text>
<text x="256.32" y="236.00" font-family="Liberation Serif" font-weight="bold" font-style="italic" font-size="8.20" textLength="20.15" lengthAdjust="spacingAndGlyphs">LCY-b</text>
<text x="282.52" y="236.00" font-family="Liberation Serif" font-weight="bold" font-style="italic" font-size="8.20" textLength="20.84" lengthAdjust="spacingAndGlyphs">CHY-b</text>
<text x="309.67" y="236.00" font-family="Liberation Serif" font-weight="bold" font-style="italic" font-size="8.20" textLength="15.07" lengthAdjust="spacingAndGlyphs">VDE</text>
<text x="335.17" y="236.00" font-family="Liberation Serif" font-weight="bold" font-style="italic" font-size="8.20" textLength="13.97" lengthAdjust="spacingAndGlyphs">ZEP</text>
<text x="360.35" y="236.00" font-family="Liberation Serif" font-weight="bold" font-style="italic" font-size="8.20" textLength="14.39" lengthAdjust="spacingAndGlyphs">NXS</text>
<text x="381.20" y="236.00" font-family="Liberation Serif" font-weight="bold" font-style="italic" font-size="8.20" textLength="27.87" lengthAdjust="spacingAndGlyphs">NCED-1</text>
<text x="411.49" y="236.00" font-family="Liberation Serif" font-weight="bold" font-style="italic" font-size="8.20" textLength="27.83" lengthAdjust="spacingAndGlyphs">NCED-2</text>
</g></svg></div></body></html>
